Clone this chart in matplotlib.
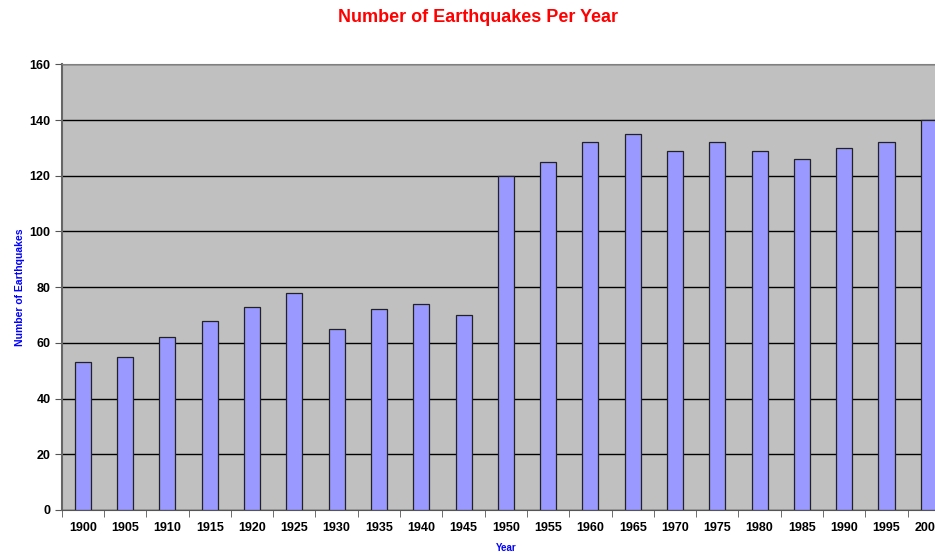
import matplotlib
matplotlib.use("Agg")
import matplotlib.pyplot as plt
import numpy as np

plt.rcParams['font.family'] = ['Liberation Sans', 'DejaVu Sans']

# Data
years = ['1900', '1905', '1910', '1915', '1920', '1925', '1930', '1935', '1940', '1945',
         '1950', '1955', '1960', '1965', '1970', '1975', '1980', '1985', '1990', '1995', '2000']
quakes = [53, 55, 62, 68, 73, 78, 65, 72, 74, 70,
          120, 125, 132, 135, 129, 132, 129, 126, 130, 132, 140]

fig = plt.figure(figsize=(9.35, 5.52), dpi=100)
# the plot area runs past the right edge, like the original screenshot
ax = fig.add_axes([0.066, 0.0761, 0.950, 0.8074])

x = np.arange(len(years))
ax.set_facecolor('#C0C0C0')
ax.yaxis.grid(True, color='black', linewidth=1)
ax.set_axisbelow(True)
ax.bar(x, quakes, width=0.38, color='#9999FF', edgecolor='#222222', linewidth=0.9, zorder=3)

ax.set_xlim(-0.5, len(years) - 0.5)
ax.set_ylim(0, 160)
ax.set_yticks(range(0, 161, 20))
ax.set_xticks(x)
ax.set_xticklabels(years)
ax.set_xticks(np.arange(-0.5, len(years), 1), minor=True)
ax.tick_params(axis='x', which='major', length=0, pad=9, labelsize=9)
ax.tick_params(axis='x', which='minor', length=5, direction='out', color='#555555')
ax.tick_params(axis='y', length=5, direction='out', color='#555555', labelsize=9, pad=3)
for lab in ax.get_xticklabels() + ax.get_yticklabels():
    lab.set_fontweight('bold')

for side in ['top', 'right']:
    ax.spines[side].set_color('#808080')
ax.spines['left'].set_color('#666666')
ax.spines['left'].set_linewidth(1.5)
ax.spines['bottom'].set_color('#555555')

ax.set_ylabel('Number of Earthquakes', color='#0000FF', fontsize=7.5, fontweight='bold', labelpad=3)
ax.set_xlabel('Year', color='#0000FF', fontsize=7, fontweight='bold', labelpad=6)
fig.text(0.511, 0.968, 'Number of Earthquakes Per Year', color='#FF0000', fontsize=13,
         fontweight='bold', ha='center', va='center')

fig.savefig('out.png', dpi=100)
